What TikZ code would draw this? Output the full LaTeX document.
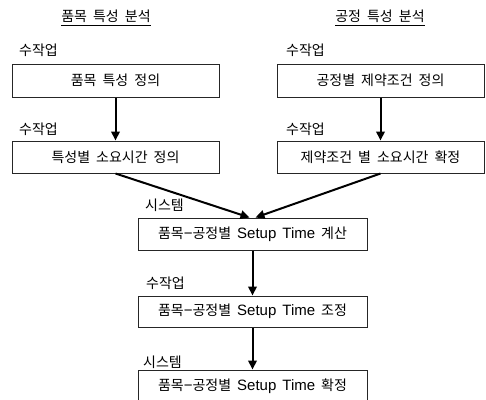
\documentclass[tikz,border=0pt]{standalone}
\usepackage{fontspec}
\setmainfont{Liberation Sans}
\newfontfamily\kr{Noto Sans CJK KR}
\newcommand\lat[1]{{\rmfamily\fontsize{15}{16}\selectfont #1}}
\newcommand\krtext{\kr\fontsize{14}{16}\selectfont\spaceskip=6pt plus 1pt\relax}
\usetikzlibrary{arrows.meta,calc}
\begin{document}
\begin{tikzpicture}[x=1pt,y=-1pt,
  txt/.style={font=\krtext},
  box/.style={txt, draw=black!85, line width=1pt, minimum width=207pt, minimum height=32pt, inner sep=0pt},
  wide/.style={box, minimum width=229pt},
  lab/.style={txt, anchor=west, inner sep=0pt},
  ttl/.style={txt, inner sep=0pt},
  flow/.style={line width=2pt, -{Triangle[length=9pt,width=8.5pt]}},
]
\clip (0,0) rectangle (486,399);
\fill[white] (0,0) rectangle (486,399);

% titles
\node[ttl] (t1) at (106,16) {품목 특성 분석};
\node[ttl] (t2) at (380,16) {공정 특성 분석};
\draw[line width=0.8pt] ($(t1.west)+(0,9)$) -- ($(t1.east)+(0,9)$);
\draw[line width=0.8pt] ($(t2.west)+(0,9)$) -- ($(t2.east)+(0,9)$);

% labels
\node[lab] (l1) at (19,50) {수작업};
\node[lab] (l2) at (19,129) {수작업};
\node[lab] (r1) at (286,50) {수작업};
\node[lab] (r2) at (286,129) {수작업};
\node[lab] (l3) at (145,205) {시스템};
\node[lab] (l4) at (146,283) {수작업};
\node[lab] (l5) at (143,362) {시스템};

% boxes
\node[box, minimum height=33pt] (a1) at (115.5,80.5) {품목 특성 정의};
\node[box] (a2) at (115.5,157) {특성별 소요시간 정의};
\node[box, minimum height=33pt] (b1) at (380.5,80.5) {공정별 제약조건 정의};
\node[box] (b2) at (380.5,157) {제약조건 별 소요시간 확정};
\node[wide] (c) at (252.5,234) {품목\lat{−}공정별 \lat{Setup Time} 계산};
\node[wide, minimum height=31pt] (d) at (252.5,311.5) {품목\lat{−}공정별 \lat{Setup Time} 조정};
\node[wide] (e) at (252.5,386) {품목\lat{−}공정별 \lat{Setup Time} 확정};

\coordinate (cinL) at ($(c.north)+(-3,0)$);
\coordinate (cinR) at ($(c.north)+(3,0)$);

% connectors
\draw[flow] (a1.south) -- (a2.north);
\draw[flow] (b1.south) -- (b2.north);
\draw[flow] (a2.south) -- (cinL);
\draw[flow] (b2.south) -- (cinR);
\draw[flow] (c.south) -- (d.north);
\draw[flow] (d.south) -- (e.north);
\end{tikzpicture}
\end{document}
